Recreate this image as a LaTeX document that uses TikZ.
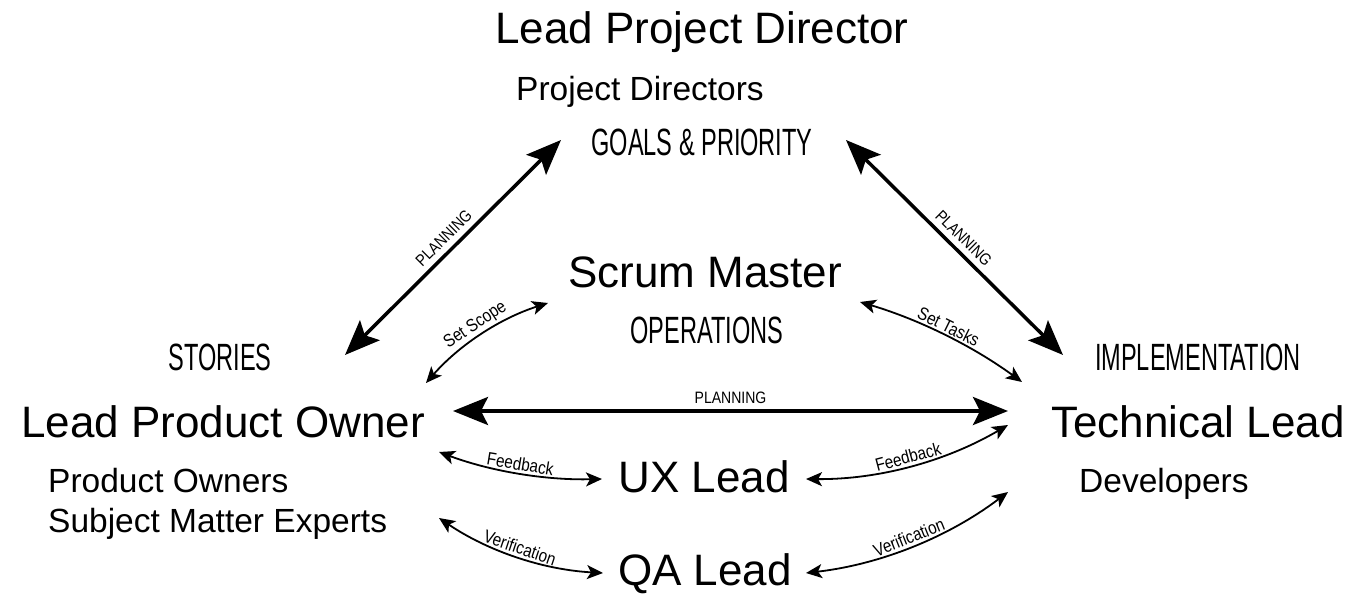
\documentclass[tikz,border=0pt]{standalone}
\usepackage{fontspec}
\setmainfont{Liberation Sans}
\newfontfamily\condfont[FakeStretch=0.62]{Liberation Sans}
\newfontfamily\labfont[FakeStretch=0.85]{Liberation Sans}
\usetikzlibrary{arrows.meta,calc}
\begin{document}
\begin{tikzpicture}[x=1pt,y=-1pt,
  big/.style={font=\fontsize{44}{48}\selectfont, inner sep=0pt, anchor=base},
  sub/.style={font=\fontsize{33.5}{36}\selectfont, inner sep=0pt, anchor=base west},
  capt/.style={font=\condfont\fontsize{38}{40}\selectfont, inner sep=0pt, anchor=base},
  lab/.style={font=\labfont\fontsize{18}{19}\selectfont, inner sep=0pt, midway, sloped, above=2pt},
  biglab/.style={lab, font=\labfont\fontsize{16.5}{18}\selectfont, above=3.5pt},
  bigarrow/.style={line width=3.5pt, {Stealth[length=35pt,width=28pt,inset=7pt]}-{Stealth[length=35pt,width=28pt,inset=7pt]}},
  smallarrow/.style={line width=1.8pt, {Stealth[length=16pt,width=14pt,inset=4pt]}-{Stealth[length=16pt,width=14pt,inset=4pt]}},
]
\path[use as bounding box, fill=white] (0,0) rectangle (1350,597);

% texts
\node[big] (lpd) at (702,43) {Lead Project Director};
\node[sub] (pd) at (516,100) {Project Directors};
\node[capt] (goals) at (702,155) {GOALS \& PRIORITY};
\node[big] (sm) at (705,287) {Scrum Master};
\node[capt] (ops) at (707,343) {OPERATIONS};
\node[capt] (stories) at (220,370) {STORIES};
\node[big] (lpo) at (223,437) {Lead Product Owner};
\node[sub] (po) at (48,492) {Product Owners};
\node[sub] (sme) at (48,532) {Subject Matter Experts};
\node[capt] (impl) at (1198,370) {IMPLEMENTATION};
\node[big] (tl) at (1198,437) {Technical Lead};
\node[sub] (dev) at (1079,492) {Developers};
\node[big] (ux) at (704,492) {UX Lead};
\node[big] (qa) at (705,585) {QA Lead};

% arrow end points
\coordinate (pl1a) at (345,355);  \coordinate (pl1b) at (561,140);
\coordinate (pl2a) at (846,140);  \coordinate (pl2b) at (1063,355);
\coordinate (hza) at (453,411);   \coordinate (hzb) at (1008,411);
\coordinate (ssa) at (426,383);   \coordinate (ssb) at (548,303);  \coordinate (ssc) at (476,326);
\coordinate (sta) at (860,302);   \coordinate (stb) at (1022,382); \coordinate (stc) at (948,328);
\coordinate (fla) at (439,452);   \coordinate (flb) at (602,479);  \coordinate (flc) at (517,481);
\coordinate (vla) at (439,518);   \coordinate (vlb) at (603,573);  \coordinate (vlc) at (513,568);
\coordinate (fra) at (806,479);   \coordinate (frb) at (1008,425); \coordinate (frc) at (914,480);
\coordinate (vra) at (806,573);   \coordinate (vrb) at (1008,492); \coordinate (vrc) at (918,560);

% thick arrows
\draw[bigarrow] (pl1a) -- node[biglab] {PLANNING} (pl1b);
\draw[bigarrow] (pl2a) -- node[biglab] {PLANNING} (pl2b);
\draw[bigarrow] (hza) -- node[biglab] {PLANNING} (hzb);

% thin curved arrows
\draw[smallarrow] (ssa) .. controls ($(ssa)!2/3!(ssc)$) and ($(ssb)!2/3!(ssc)$) .. node[lab] {Set Scope} (ssb);
\draw[smallarrow] (sta) .. controls ($(sta)!2/3!(stc)$) and ($(stb)!2/3!(stc)$) .. node[lab] {Set Tasks} (stb);
\draw[smallarrow] (fla) .. controls ($(fla)!2/3!(flc)$) and ($(flb)!2/3!(flc)$) .. node[lab] {Feedback} (flb);
\draw[smallarrow] (vla) .. controls ($(vla)!2/3!(vlc)$) and ($(vlb)!2/3!(vlc)$) .. node[lab] {Verification} (vlb);
\draw[smallarrow] (fra) .. controls ($(fra)!2/3!(frc)$) and ($(frb)!2/3!(frc)$) .. node[lab] {Feedback} (frb);
\draw[smallarrow] (vra) .. controls ($(vra)!2/3!(vrc)$) and ($(vrb)!2/3!(vrc)$) .. node[lab] {Verification} (vrb);
\end{tikzpicture}
\end{document}
